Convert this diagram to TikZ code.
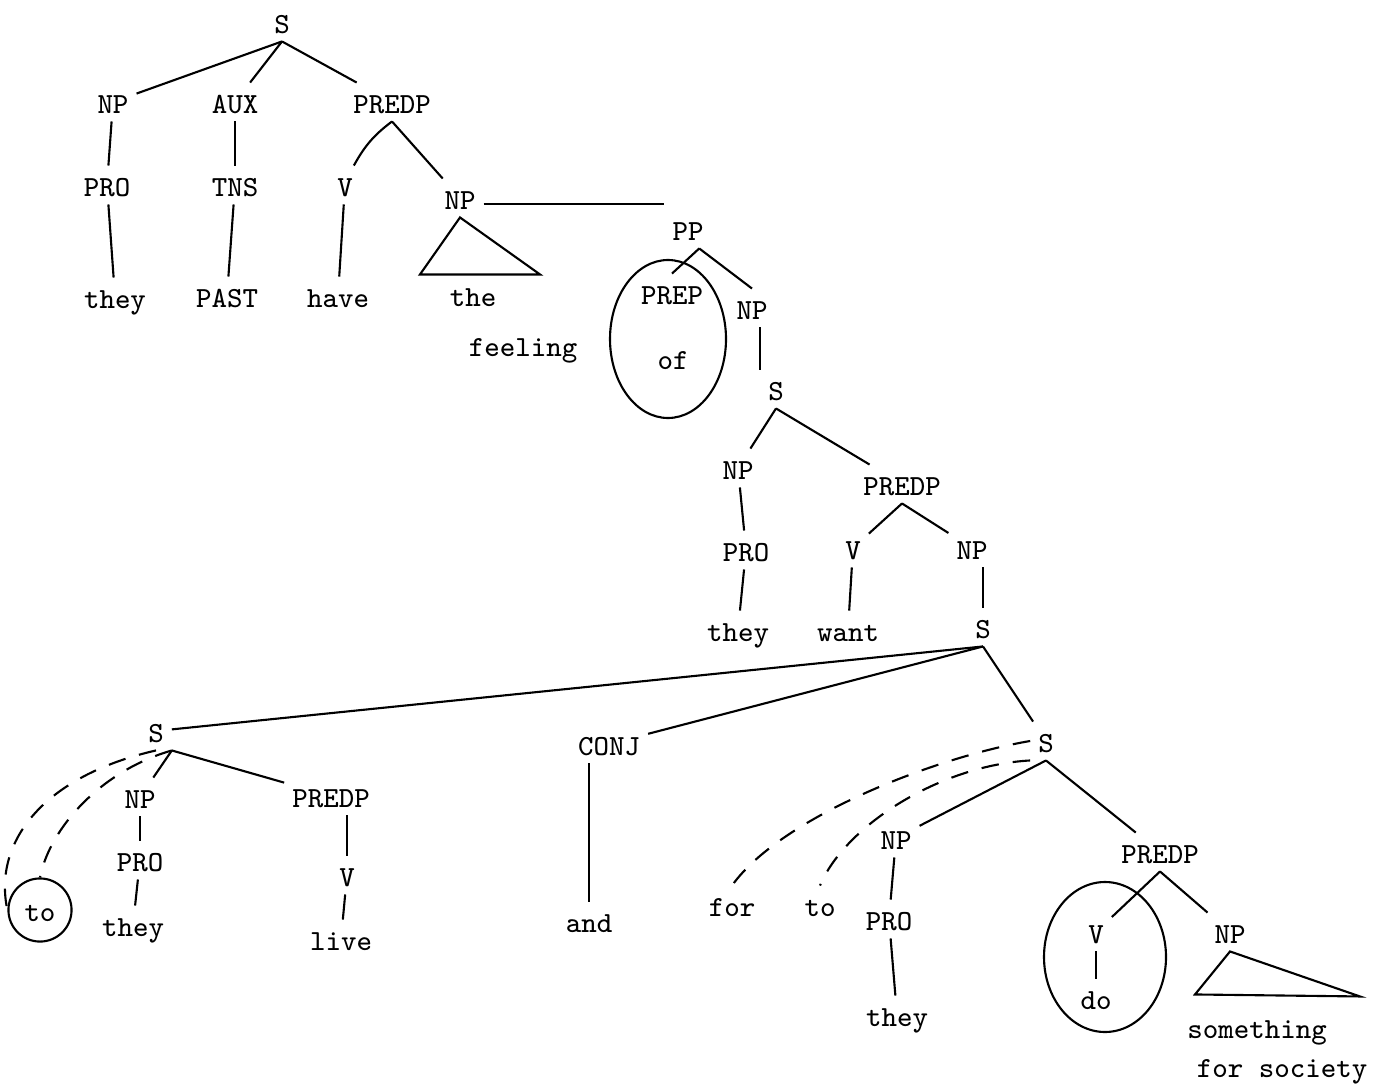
\documentclass[tikz,border=0pt]{standalone}
\begin{document}
\begin{tikzpicture}[x=0.01cm,y=-0.01cm,line width=0.6pt,
  every node/.style={font=\fontsize{8.3}{10}\selectfont\ttfamily,
    inner sep=2pt,text height=1.5ex,text depth=0pt},
  moved/.style={dashed,dash pattern=on 5pt off 4pt},
  ring/.style={draw,circle,inner sep=2.5pt}]

\useasboundingbox (0,0) rectangle (1382,1088);

% main clause
\node (s1) at (282,22) {S};
\node (np1) at (113,102) {NP};
\node (aux) at (235,102) {AUX};
\node (predp1) at (392,102) {PREDP};
\node (pro1) at (107,185) {PRO};
\node (tns) at (235,185) {TNS};
\node (v1) at (345,185) {V};
\node (np2) at (460,198) {NP};
\node (they1) at (115,297) {they};
\node (past) at (227,296) {PAST};
\node (have) at (338,296) {have};
\node (the) at (473,295) {the};
\node (feeling) at (523,345) {feeling};

\draw (s1.south) -- (np1);
\draw (s1.south) -- (aux);
\draw (s1.south) -- (predp1);
\draw (np1) -- (pro1);
\draw (aux) -- (tns);
\draw (predp1.south) to[bend right=12] (v1);
\draw (predp1.south) -- (np2);
\draw (pro1) -- (they1);
\draw (tns) -- (past);
\draw (v1) -- (have);
\draw (np2.south) -- +(-40,57) -- +(80,57) -- cycle;

% of-phrase
\node (pp) at (688,229) {PP};
\node (prep) at (672,293) {PREP};
\node (of) at (673,358) {of};
\node (np3) at (752,308) {NP};

\draw (np2.-15) -- (np2.-15 -| pp.north west);
\draw (pp.-60) -- (prep.north);
\draw (pp.-60) -- (np3.north);
\draw (668,339) ellipse [x radius=58, y radius=79];

% they want
\node (s2) at (776,389) {S};
\node (np4) at (738,468) {NP};
\node (predp2) at (902,484) {PREDP};
\node (pro2) at (746,550) {PRO};
\node (v2) at (853,548) {V};
\node (np5) at (972,548) {NP};
\node (they2) at (738,630) {they};
\node (want) at (848,630) {want};
\node (s3) at (983,627) {S};

\draw (np3.south -| s2.north west) -- (s2.north west);
\draw (s2.south) -- (np4);
\draw (s2.south) -- (predp2);
\draw (np4) -- (pro2);
\draw (predp2.south) -- (v2);
\draw (predp2.south) -- (np5);
\draw (pro2) -- (they2);
\draw (v2) -- (want);
\draw (np5.south -| s3) -- (s3);

% conjunction
\node (s4) at (156,731) {S};
\node (conj) at (609,744) {CONJ};
\node (s5) at (1046,741) {S};
\node (and) at (589,921) {and};

\draw (s3.south) -- (s4);
\draw (s3.south) -- (conj);
\draw (s3.south) -- (s5);
\draw (conj.south -| and) -- (and);

% to live
\node (np6) at (140,797) {NP};
\node (predp3) at (331,796) {PREDP};
\node[ring] (to1) at (40,910) {to};
\node (pro3) at (140,860) {PRO};
\node (they3) at (133,925) {they};
\node (v3) at (347,875) {V};
\node (live) at (341,939) {live};

\draw (s4.south east) -- (np6);
\draw (s4.south east) -- (predp3);
\draw (np6) -- (pro3);
\draw (pro3) -- (they3);
\draw (predp3.south -| v3) -- (v3);
\draw (v3) -- (live);
\draw[moved] (s4.south) .. controls +(-110,25) and +(-15,-70) .. (to1.west);
\draw[moved] (s4.south east) .. controls +(-70,20) and +(10,-50) .. (to1.north);

% for to do something
\node (for1) at (732,905) {for};
\node (to2) at (820,905) {to};
\node (np7) at (896,838) {NP};
\node (predp4) at (1160,852) {PREDP};
\node (pro4) at (889,919) {PRO};
\node (they4) at (897,1015) {they};
\node (v4) at (1096,932) {V};
\node (np8) at (1230,932) {NP};
\node (do) at (1096,998) {do};
\node (something) at (1257,1027) {something};
\node (society) at (1282,1066) {for society};

\draw (s5.south) -- (np7);
\draw (s5.south) -- (predp4);
\draw (np7) -- (pro4);
\draw (pro4) -- (they4);
\draw (predp4.south) -- (v4);
\draw (predp4.south) -- (np8);
\draw (v4) -- (do);
\draw (np8.south) -- +(-35,43) -- +(130,45) -- cycle;
\draw (1105,957) ellipse [x radius=61, y radius=75];
\draw[moved] (s5.west) .. controls +(-90,15) and +(50,-70) .. (for1.north);
\draw[moved] (s5.south west) .. controls +(-90,5) and +(25,-60) .. (to2.north);

\end{tikzpicture}
\end{document}
